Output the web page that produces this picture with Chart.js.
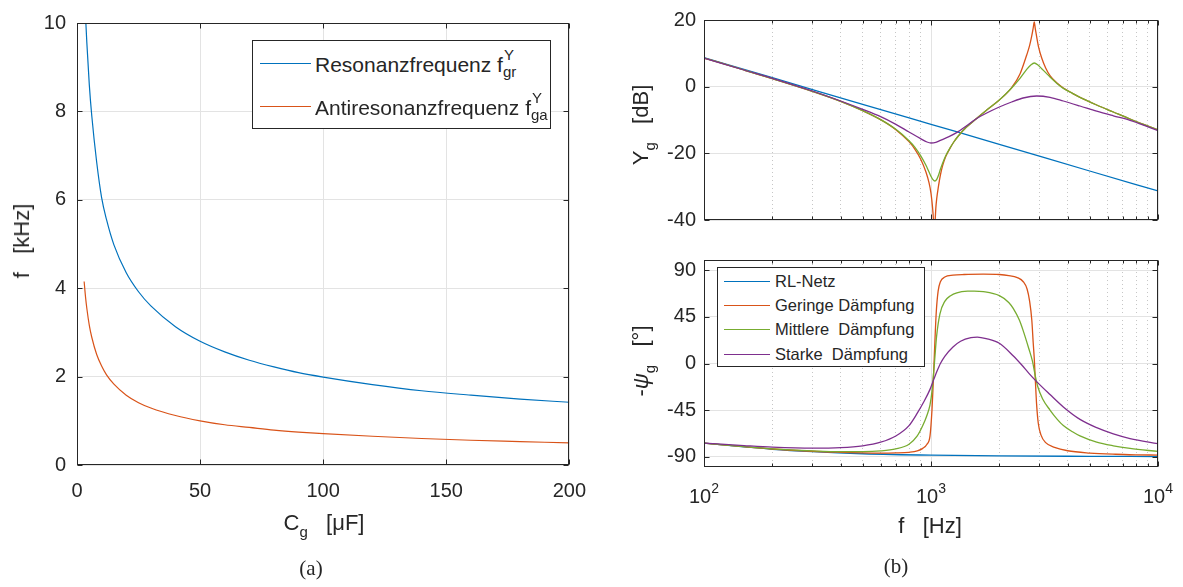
<!DOCTYPE html>
<html><head><meta charset="utf-8">
<script src="https://cdn.jsdelivr.net/npm/chart.js@4.4.0/dist/chart.umd.min.js"></script>
<style>
body{margin:0;background:#fff;width:1183px;height:587px;overflow:hidden;position:relative;font-family:"Liberation Sans",Arial,sans-serif;color:#262626}
canvas{position:absolute}
.lbl{position:absolute;white-space:pre;font-size:22px;line-height:22px}
.rot{transform:translate(-50%,-50%) rotate(-90deg)}
.ctr{transform:translate(-50%,-50%)}
.sb{font-size:15px;position:relative;top:7px}
.cap{position:absolute;font-family:"Liberation Serif","Times New Roman",serif;font-size:21px;transform:translate(-50%,-50%)}
.leg{position:absolute;border:1px solid #262626;background:#fff;box-sizing:border-box}
.ln{position:absolute;height:0;border-top-style:solid;border-top-width:1.5px}
.lt{position:absolute;white-space:pre}
.ss{display:inline-block;position:relative;width:26px;height:20px}
.ss .u{position:absolute;left:1px;top:-8px;font-size:15px}
.ss .d{position:absolute;left:0;top:9px;font-size:15px}
</style></head>
<body>
<canvas id="c1" width="600" height="587" style="left:0;top:0"></canvas>
<canvas id="c2" width="583" height="240" style="left:600px;top:0"></canvas>
<canvas id="c3" width="583" height="347" style="left:600px;top:240px"></canvas>

<div class="lbl rot" style="left:22px;top:241px">f   [kHz]</div>
<div class="lbl ctr" style="left:324px;top:524px">C<span class="sb">g</span>   [μF]</div>
<div class="lbl rot" style="left:642px;top:125px">Y<span class="sb">g</span>   [dB]</div>
<div class="lbl rot" style="left:642px;top:361px">-<i>ψ</i><span class="sb">g</span>   [°]</div>
<div class="lbl ctr" style="left:930px;top:526px">f   [Hz]</div>
<div class="cap" style="left:311px;top:568px">(a)</div>
<div class="cap" style="left:896px;top:566px">(b)</div>

<div class="leg" style="left:252px;top:40px;width:299px;height:89px">
  <div class="ln" style="left:7px;top:22px;width:51px;border-top-color:#0072BD"></div>
  <div class="lt" style="left:62px;top:11px;font-size:21px;line-height:21px">Resonanzfrequenz f<span class="ss"><span class="u">Y</span><span class="d">gr</span></span></div>
  <div class="ln" style="left:7px;top:65px;width:51px;border-top-color:#D95319"></div>
  <div class="lt" style="left:62px;top:54px;font-size:21px;line-height:21px">Antiresonanzfrequenz f<span class="ss"><span class="u">Y</span><span class="d">ga</span></span></div>
</div>

<div class="leg" style="left:717px;top:267px;width:208px;height:100px">
  <div class="ln" style="left:6px;top:13px;width:46px;border-top-color:#0072BD"></div>
  <div class="lt" style="left:57px;top:4px;font-size:16.5px;line-height:18px">RL-Netz</div>
  <div class="ln" style="left:6px;top:37px;width:46px;border-top-color:#D95319"></div>
  <div class="lt" style="left:57px;top:28px;font-size:16.5px;line-height:18px">Geringe Dämpfung</div>
  <div class="ln" style="left:6px;top:61px;width:46px;border-top-color:#77AC30"></div>
  <div class="lt" style="left:57px;top:52px;font-size:16.5px;line-height:18px">Mittlere  Dämpfung</div>
  <div class="ln" style="left:6px;top:86px;width:46px;border-top-color:#7E2F8E"></div>
  <div class="lt" style="left:57px;top:77px;font-size:16.5px;line-height:18px">Starke  Dämpfung</div>
</div>

<script>
// ---------- (a) resonance / antiresonance frequency vs C_g ----------
const CG_RES  = [3.0, 3.6, 4, 5, 6, 8, 10, 12, 15, 20, 25, 30, 40, 50, 60, 70, 80, 90, 100, 120, 140, 160, 180, 200];
const F_RES   = [10.9, 10.0, 9.55, 8.6, 7.9, 6.85, 6.05, 5.55, 4.98, 4.35, 3.92, 3.6, 3.13, 2.8, 2.56, 2.37, 2.22, 2.09, 1.99, 1.82, 1.68, 1.58, 1.49, 1.42];
const CG_ANTI = [2.9, 3.5, 4, 5, 6, 8, 10, 12, 15, 20, 25, 30, 40, 50, 60, 70, 80, 90, 100, 120, 140, 160, 180, 200];
const F_ANTI  = [4.15, 3.78, 3.54, 3.16, 2.89, 2.5, 2.24, 2.04, 1.83, 1.58, 1.41, 1.29, 1.12, 1.0, 0.91, 0.85, 0.79, 0.745, 0.71, 0.65, 0.6, 0.56, 0.53, 0.5];
const A_X_TICKS = [0, 50, 100, 150, 200];
const A_Y_TICKS = [0, 2, 4, 6, 8, 10];

// ---------- (b) top: admittance magnitude [dB] ----------
const F_RL   = [100, 200, 500, 1000, 2000, 5000, 10000];
const MAG_RL = [8.7, 2.7, -5.3, -11.3, -17.3, -25.3, -31.3];
const F_GER  = [100,150,200,300,400,500,600,700,800,850,900,950,980,1000,1015,1025,1033,1040,1050,1060,1078,1100,1126,1160,1210,1260,1319,1430,1578,1760,2000,2266,2466,2640,2720,2780,2820,2850,2880,2920,2980,3074,3200,3344,3600,3828,4200,4532,5368,6356,7530,8700,10000];
const MAG_GER= [8.6,5.0,2.4,-1.4,-4.4,-7.2,-9.9,-12.9,-16.5,-18.8,-21.7,-25.6,-28.8,-32,-36,-40,-46,-42,-36.5,-33.5,-30,-26.5,-23.6,-21,-18.6,-16.6,-14.8,-12.2,-9.7,-7.0,-4.0,-0.3,3.8,9.5,12.4,15.3,17.6,19.4,17.4,15.0,11.8,8.6,5.6,3.3,1.0,-0.4,-2.0,-3.2,-5.5,-7.6,-9.7,-11.4,-12.9];
const F_MIT  = [100,150,200,300,400,500,600,700,800,850,900,950,980,1000,1020,1040,1060,1080,1100,1126,1160,1210,1260,1319,1430,1578,1760,2000,2266,2466,2640,2760,2850,2950,3074,3200,3344,3600,3828,4200,4532,5368,6356,7530,8700,10000];
const MAG_MIT= [8.6,5.0,2.4,-1.4,-4.4,-7.2,-9.9,-12.8,-16.2,-18.2,-20.7,-23.6,-25.6,-26.9,-27.9,-28.3,-27.8,-26.5,-24.8,-22.9,-20.8,-18.5,-16.6,-14.8,-12.2,-9.7,-7.0,-4.0,-0.4,2.5,5.2,6.6,7.1,6.6,5.4,4.2,2.9,0.9,-0.5,-2.0,-3.2,-5.5,-7.6,-9.7,-11.4,-12.9];
const F_STA  = [100,150,200,300,400,500,600,700,800,900,960,1000,1050,1100,1200,1319,1430,1578,1760,2000,2266,2545,2920,3344,3828,4532,5368,6356,7530,8700,10000];
const MAG_STA= [8.6,5.0,2.5,-1.3,-4.3,-6.8,-9.0,-11.3,-13.6,-15.6,-16.6,-16.9,-16.7,-16.1,-15.0,-13.5,-11.8,-9.7,-7.9,-6.1,-4.6,-3.4,-2.8,-3.2,-4.3,-5.8,-7.35,-8.75,-10.1,-11.6,-13.2];
const MAG_Y_TICKS = [-40, -20, 0, 20];

// ---------- (b) bottom: -psi_g [deg] ----------
const FP_RL  = [100,150,200,300,500,1000,2000,5000,10000];
const PH_RL  = [-76.9,-80.5,-82.9,-85.2,-87.2,-88.6,-89.3,-89.7,-89.9];
const FP_GER = [100,150,200,300,400,500,600,700,800,870,920,960,990,1010,1020,1031,1042,1055,1075,1100,1150,1250,1400,1700,2000,2200,2400,2550,2650,2720,2780,2820,2850,2880,2920,2970,3050,3200,3500,4000,5000,6500,8000,10000];
const PH_GER = [-76.9,-80.4,-82.6,-84.8,-85.8,-86.4,-86.6,-86.4,-85.8,-84.5,-82,-78,-70,-45,-25,0,25,50,70,79,83.5,85.3,86,86.3,86,85,83,79,72,60,42,20,5,-15,-40,-58,-69,-76.5,-81,-84.3,-86.5,-87.7,-88.2,-88.5];
const FP_MIT = [100,150,200,300,400,500,600,700,800,870,920,960,990,1010,1035,1058,1095,1150,1220,1300,1450,1550,1700,2000,2200,2306,2450,2545,2700,2800,2880,2950,3100,3344,3600,3828,4200,4532,5368,6356,7530,10000];
const PH_MIT = [-76.9,-80.4,-82.5,-84.4,-85.2,-85.2,-84.5,-82.5,-78,-70,-60,-50,-40,-27,0,26,48,60,65.5,68.3,69.9,70,69.4,65.5,59,53,42,32,14,2,-12,-22,-34,-45,-54,-60,-66,-70,-76,-79.5,-82,-85];
const FP_STA = [100,150,200,300,400,500,600,700,800,870,930,990,1030,1060,1100,1150,1250,1350,1500,1600,1750,2000,2300,2500,2700,2920,3344,3828,4532,5368,6356,7530,10000];
const PH_STA = [-76.9,-79.3,-80.8,-81.8,-81.3,-79.5,-76,-70,-60,-48,-37,-25,-15,-8,0,7,16,21.5,25,25.5,24,19.5,7.5,-1,-9.5,-17.5,-30,-42,-54,-62,-68,-72.5,-77.5];
const PH_Y_TICKS = [-90, -45, 0, 45, 90];

// ---------- log axis ticks ----------
const LOG_TICKS = [100,200,300,400,500,600,700,800,900,1000,2000,3000,4000,5000,6000,7000,8000,9000,10000];
const LOG_LABELS = [{v:100, base:'10', exp:'2'}, {v:1000, base:'10', exp:'3'}, {v:10000, base:'10', exp:'4'}];

// ---------- styling ----------
const FONT = '"Liberation Sans", Arial, sans-serif';
const INK = '#262626';
const GRID = '#e3e3e3';
const GRID_MINOR = '#c6c6c6';
const C_BLUE = '#0072BD', C_ORANGE = '#D95319', C_GREEN = '#77AC30', C_PURPLE = '#7E2F8E';

const pts = (xs, ys) => xs.map((x, i) => ({x, y: ys[i]}));
const isDecade = v => Math.abs(Math.log10(v) - Math.round(Math.log10(v))) < 1e-9;
const ds = (xs, ys, color, order, w) => ({data: pts(xs, ys), borderColor: color, borderWidth: w || 1.3, pointRadius: 0, fill: false, cubicInterpolationMode: 'monotone', order});

const boxPlugin = {
  id: 'box',
  afterDraw(chart) {
    const {ctx, chartArea: a} = chart;
    const L = Math.round(a.left) + 0.5, R = Math.round(a.right) - 0.5, T = Math.round(a.top) + 0.5, B = Math.round(a.bottom) - 0.5;
    ctx.save();
    ctx.strokeStyle = INK; ctx.lineWidth = 1;
    ctx.beginPath();
    const ys = chart.scales.y, xs = chart.scales.x;
    ys.ticks.forEach(t => {
      const p = Math.round(ys.getPixelForValue(t.value)) + 0.5;
      ctx.moveTo(L, p); ctx.lineTo(L + 5, p); ctx.moveTo(R, p); ctx.lineTo(R - 5, p);
    });
    const logx = xs.type === 'logarithmic';
    xs.ticks.forEach(t => {
      const p = Math.round(xs.getPixelForValue(t.value)) + 0.5;
      const len = (!logx || isDecade(t.value)) ? 5 : 3;
      ctx.moveTo(p, B); ctx.lineTo(p, B - len); ctx.moveTo(p, T); ctx.lineTo(p, T + len);
    });
    ctx.stroke();
    ctx.strokeRect(L, T, R - L, B - T);
    ctx.restore();
  }
};

const logLabelPlugin = {
  id: 'loglbl',
  afterDraw(chart) {
    const {ctx} = chart; const xs = chart.scales.x;
    const yBase = chart.chartArea.bottom + 36;
    ctx.save(); ctx.fillStyle = INK; ctx.textBaseline = 'alphabetic'; ctx.textAlign = 'left';
    LOG_LABELS.forEach(l => {
      const px = xs.getPixelForValue(l.v);
      ctx.font = '20px ' + FONT; const w1 = ctx.measureText(l.base).width;
      ctx.font = '14px ' + FONT; const w2 = ctx.measureText(l.exp).width;
      const x0 = px - (w1 + w2) / 2;
      ctx.font = '20px ' + FONT; ctx.fillText(l.base, x0, yBase);
      ctx.font = '14px ' + FONT; ctx.fillText(l.exp, x0 + w1, yBase - 10);
    });
    ctx.restore();
  }
};

const tickFont = {size: 20, family: FONT};
const baseOpts = (pad) => ({
  responsive: false, animation: false, devicePixelRatio: 1,
  layout: {padding: pad},
  plugins: {legend: {display: false}, tooltip: {enabled: false}},
});

const linGrid = {color: GRID, lineWidth: 1, drawTicks: false};
const logGrid = {
  color: c => (c.tick && !isDecade(c.tick.value)) ? GRID_MINOR : GRID,
  lineWidth: 1, drawTicks: false
};
const logBorder = {display: false, dash: c => (c.tick && !isDecade(c.tick.value)) ? [1, 3] : []};
const logX = (h) => ({
  type: 'logarithmic', min: 100, max: 10000,
  afterBuildTicks: s => { s.ticks = LOG_TICKS.map(v => ({value: v, major: isDecade(v)})); },
  ticks: {display: false},
  grid: logGrid, border: logBorder,
  afterFit: s => { s.height = h; }
});
const fixedTicks = arr => s => { s.ticks = arr.map(v => ({value: v})); };

// chart (a)
new Chart(document.getElementById('c1'), {
  type: 'line',
  data: {datasets: [
    ds(CG_RES, F_RES, C_BLUE, 1, 1.2),
    ds(CG_ANTI, F_ANTI, C_ORANGE, 2, 1.2)
  ]},
  options: Object.assign(baseOpts({left: 0, right: 29, top: 17, bottom: 0}), {
    scales: {
      x: {type: 'linear', min: 0, max: 200, afterBuildTicks: fixedTicks(A_X_TICKS),
          ticks: {font: tickFont, color: INK, padding: 14, maxRotation: 0, autoSkip: false},
          grid: linGrid, border: {display: false}, afterFit: s => { s.height = 122; }},
      y: {type: 'linear', min: 0, max: 10, afterBuildTicks: fixedTicks(A_Y_TICKS),
          ticks: {font: tickFont, color: INK, padding: 11, autoSkip: false},
          grid: linGrid, border: {display: false}, afterFit: s => { s.width = 77; }}
    }
  }),
  plugins: [boxPlugin]
});

// chart (b) top
new Chart(document.getElementById('c2'), {
  type: 'line',
  data: {datasets: [
    ds(F_RL, MAG_RL, C_BLUE, 4),
    ds(F_GER, MAG_GER, C_ORANGE, 3),
    ds(F_MIT, MAG_MIT, C_GREEN, 2),
    ds(F_STA, MAG_STA, C_PURPLE, 1)
  ]},
  options: Object.assign(baseOpts({left: 0, right: 25, top: 17, bottom: 0}), {
    scales: {
      x: logX(8),
      y: {type: 'linear', min: -40, max: 20, afterBuildTicks: fixedTicks(MAG_Y_TICKS),
          ticks: {font: tickFont, color: INK, padding: 8, autoSkip: false},
          grid: linGrid, border: {display: false}, afterFit: s => { s.width = 104; }}
    }
  }),
  plugins: [boxPlugin]
});

// chart (b) bottom
new Chart(document.getElementById('c3'), {
  type: 'line',
  data: {datasets: [
    ds(FP_RL, PH_RL, C_BLUE, 4),
    ds(FP_GER, PH_GER, C_ORANGE, 3),
    ds(FP_MIT, PH_MIT, C_GREEN, 2),
    ds(FP_STA, PH_STA, C_PURPLE, 1)
  ]},
  options: Object.assign(baseOpts({left: 0, right: 25, top: 11, bottom: 0}), {
    scales: {
      x: logX(120),
      y: {type: 'linear', min: -100, max: 100, afterBuildTicks: fixedTicks(PH_Y_TICKS),
          ticks: {font: tickFont, color: INK, padding: 8, autoSkip: false},
          grid: linGrid, border: {display: false}, afterFit: s => { s.width = 104; }}
    }
  }),
  plugins: [boxPlugin, logLabelPlugin]
});
</script>
</body></html>
